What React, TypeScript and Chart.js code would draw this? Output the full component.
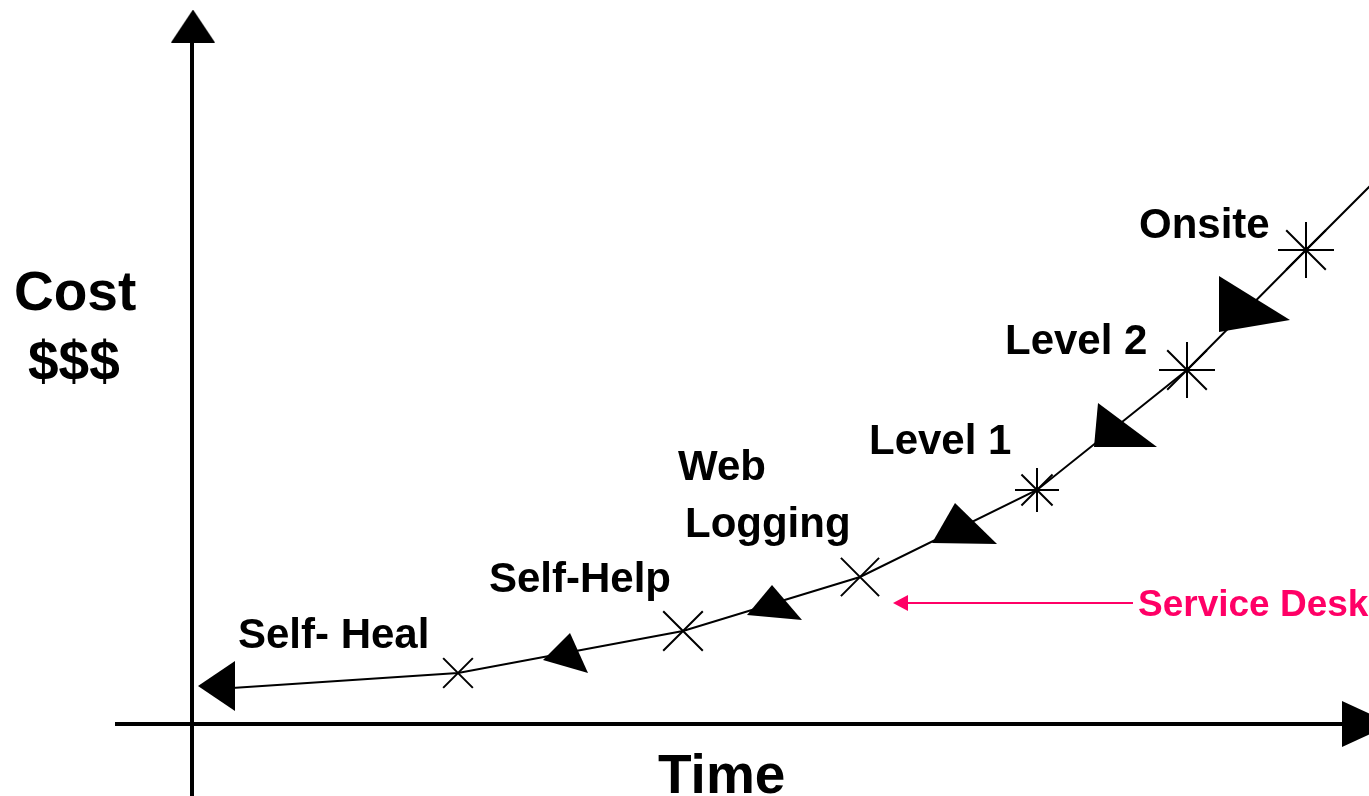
import { useEffect, useRef } from "react";
import { Chart, registerables } from "chart.js";

Chart.register(...registerables);

// ---- data (time / cost units, origin where the two axes cross) ----
const curveTime = [40, 266, 491, 668, 845, 995, 1114, 1188];
const curveCost = [36, 51, 93, 147, 234, 354, 474, 548];

const milestoneTime = [266, 491, 668, 845, 995, 1114];
const milestoneCost = [51, 93, 147, 234, 354, 474];
const milestoneStyles = ["crossRot", "crossRot", "crossRot", "star", "star", "star"];
const milestoneSizes = [21, 28, 27, 22, 28, 28];

const channelNames = ["Self- Heal", "Self-Help", "Web Logging", "Level 1", "Level 2", "Onsite"];
const channelTime = [24.5, 373.5, 582.5, 772.5, 933.5, 1062.5];
const channelCost = [38, 71, 121.5, 200.5, 299, 420];

const labelLines = [["Self- Heal"], ["Self-Help"], ["Web", "Logging"], ["Level 1"], ["Level 2"], ["Onsite"]];
const labelTime = [[46], [297], [486, 493], [677], [813], [947]];
const labelCost = [[76], [132], [244, 187], [270], [370], [486]];

const timeAxisRange = [-77, 1150];
const costAxisRange = [-80, 682];
const timeArrowTip = [1175, 0];
const costArrowTip = [1, 698];

const serviceDeskTime = [706, 941];
const serviceDeskCost = [121, 121];
const serviceDeskHead = [708.5, 121];

const axisTitles = ["Cost", "$$$", "Time"];
const axisTitleTime = [-178, -164, 466];
const axisTitleCost = [414, 344, -69];

// ---- styles ----
const PINK = "#ff0066";
const LABEL_FONT = 'bold 42px "Liberation Sans", Arial, sans-serif';
const TITLE_FONT = 'bold 55px "Liberation Sans", Arial, sans-serif';
const SD_FONT = 'bold 37px "Liberation Sans", Arial, sans-serif';

type Shape = { w: number; h: number; v: number[][] };
const channelShapes: Shape[] = [
  { w: 37, h: 50, v: [[0, 25], [37, 0], [37, 50]] },
  { w: 45, h: 40, v: [[27, 0], [0, 27], [45, 40]] },
  { w: 55, h: 35, v: [[25, 0], [0, 30], [55, 35]] },
  { w: 65, h: 41, v: [[23, 0], [0, 40], [65, 41]] },
  { w: 63, h: 44, v: [[4, 0], [0, 44], [63, 44]] },
  { w: 71, h: 56, v: [[0, 0], [0, 56], [71, 44]] },
];
const yArrowShape: Shape = { w: 44, h: 33, v: [[22, 0], [0, 33], [44, 33]] };
const xArrowShape: Shape = { w: 50, h: 46, v: [[0, 0], [50, 23], [0, 46]] };
const pinkArrowShape: Shape = { w: 15, h: 16, v: [[0, 8], [15, 0], [15, 16]] };

function makeShape(s: Shape, color: string): HTMLCanvasElement {
  const c = document.createElement("canvas");
  c.width = s.w;
  c.height = s.h;
  const ctx = c.getContext("2d")!;
  ctx.fillStyle = color;
  ctx.beginPath();
  s.v.forEach(([x, y], i) => (i === 0 ? ctx.moveTo(x, y) : ctx.lineTo(x, y)));
  ctx.closePath();
  ctx.fill();
  return c;
}

const textPlugin = {
  id: "diagramText",
  afterDatasetsDraw(chart: any) {
    const { ctx, scales } = chart;
    const xs = scales.x;
    const ys = scales.y;
    ctx.save();
    ctx.textAlign = "left";
    ctx.textBaseline = "alphabetic";
    ctx.fillStyle = "#000";
    ctx.font = LABEL_FONT;
    labelLines.forEach((lines, i) => {
      lines.forEach((t, j) => {
        ctx.fillText(t, xs.getPixelForValue(labelTime[i][j]), ys.getPixelForValue(labelCost[i][j]));
      });
    });
    ctx.font = TITLE_FONT;
    axisTitles.forEach((t, i) => {
      ctx.fillText(t, xs.getPixelForValue(axisTitleTime[i]), ys.getPixelForValue(axisTitleCost[i]));
    });
    ctx.font = SD_FONT;
    ctx.fillStyle = PINK;
    ctx.fillText("Service Desk", xs.getPixelForValue(serviceDeskTime[1] + 5), ys.getPixelForValue(serviceDeskCost[1] - 13));
    ctx.restore();
  },
};

export default function App() {
  const ref = useRef<HTMLCanvasElement | null>(null);

  useEffect(() => {
    if (!ref.current) return;
    const tri = channelShapes.map((s) => makeShape(s, "#000"));
    const line = (xs: number[], ys: number[], color: string, width: number) => ({
      type: "scatter" as const,
      data: xs.map((x, i) => ({ x, y: ys[i] })),
      showLine: true,
      borderColor: color,
      borderWidth: width,
      pointRadius: 0,
      tension: 0,
    });
    const chart = new Chart(ref.current, {
      type: "scatter",
      data: {
        datasets: [
          {
            label: "Support channels",
            data: channelTime.map((x, i) => ({ x, y: channelCost[i] })),
            pointStyle: tri as any,
            pointRadius: 10,
            showLine: false,
          },
          {
            label: "Milestones",
            data: milestoneTime.map((x, i) => ({ x, y: milestoneCost[i] })),
            pointStyle: milestoneStyles as any,
            pointRadius: milestoneSizes,
            pointBorderColor: "#000",
            pointBorderWidth: 2,
            pointBackgroundColor: "rgba(0,0,0,0)",
            showLine: false,
          },
          { label: "Cost curve", ...line(curveTime, curveCost, "#000", 2) },
          {
            label: "Axis heads",
            data: [
              { x: timeArrowTip[0], y: timeArrowTip[1] },
              { x: costArrowTip[0], y: costArrowTip[1] },
            ],
            pointStyle: [makeShape(xArrowShape, "#000"), makeShape(yArrowShape, "#000")] as any,
            pointRadius: 10,
            showLine: false,
          },
          { label: "Time axis", ...line(timeAxisRange, [0, 0], "#000", 4) },
          { label: "Cost axis", ...line([0, 0], costAxisRange, "#000", 4) },
          { label: "Service desk", ...line(serviceDeskTime, serviceDeskCost, PINK, 2) },
          {
            label: "Service desk head",
            data: [{ x: serviceDeskHead[0], y: serviceDeskHead[1] }],
            pointStyle: makeShape(pinkArrowShape, PINK) as any,
            pointRadius: 10,
            showLine: false,
          },
        ] as any,
      },
      options: {
        responsive: false,
        animation: false,
        events: [],
        layout: { padding: 0, autoPadding: false },
        plugins: { legend: { display: false }, tooltip: { enabled: false } },
        scales: {
          x: { type: "linear", min: -192, max: 1177, display: false },
          y: { type: "linear", min: -72, max: 724, display: false },
        },
      },
      plugins: [textPlugin],
    });
    return () => chart.destroy();
  }, []);

  return (
    <div style={{ position: "absolute", left: 0, top: 0, width: 1369, height: 796, background: "#fff" }}>
      <canvas ref={ref} width={1369} height={796} style={{ display: "block" }} />
    </div>
  );
}
